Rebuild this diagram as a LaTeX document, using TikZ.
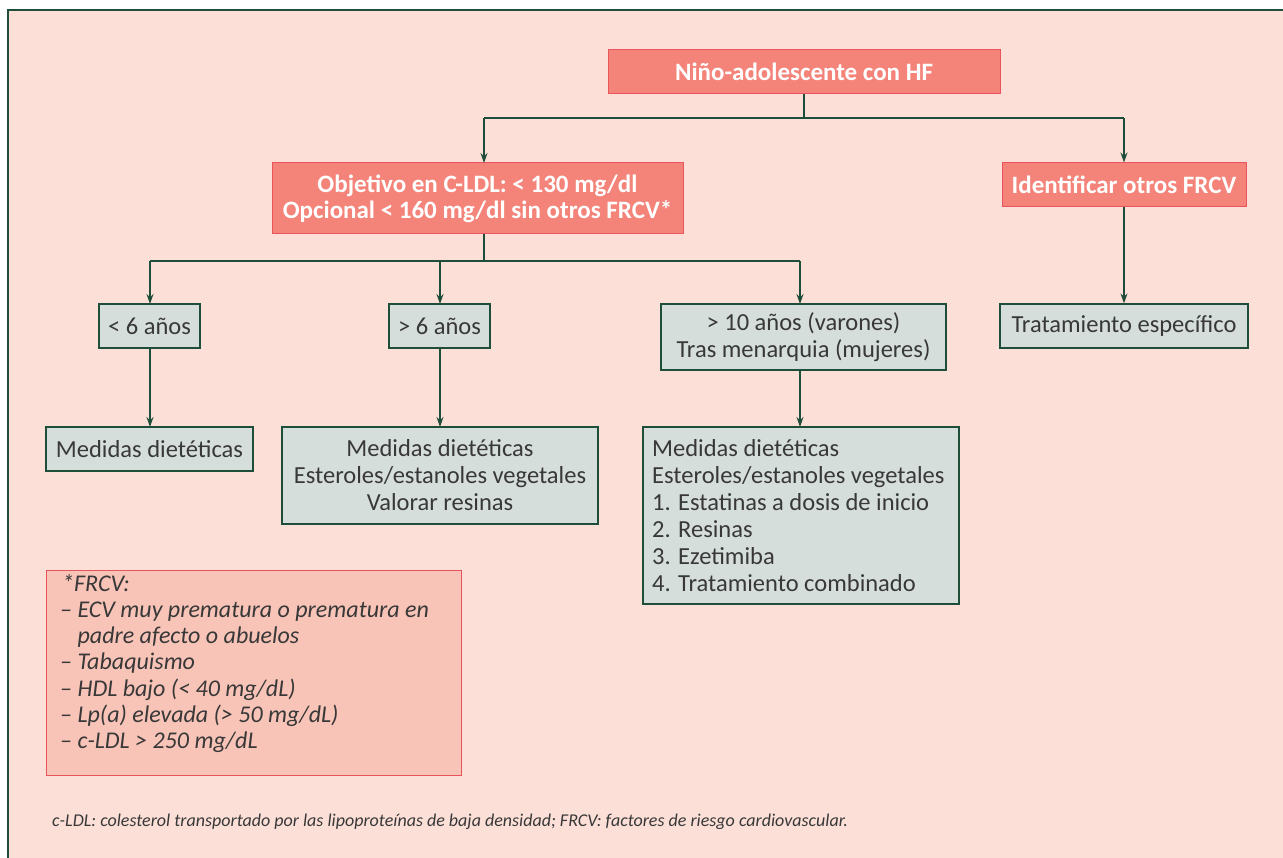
\documentclass[tikz,border=0pt]{standalone}
\usepackage{fontspec}
\setmainfont{Carlito}
\usetikzlibrary{arrows.meta}
\definecolor{bgpink}{HTML}{FCE0D8}
\definecolor{salmonfill}{HTML}{F4847A}
\definecolor{redline}{HTML}{E9545C}
\definecolor{grayfill}{HTML}{D6DEDB}
\definecolor{darkgreen}{HTML}{1E4D3A}
\definecolor{notefill}{HTML}{F9C4B8}
\definecolor{txt}{HTML}{383838}
\tikzset{
  redbox/.style={draw=redline, line width=1pt, fill=salmonfill, text=white, inner sep=0pt,
    font=\fontsize{25}{26}\selectfont\bfseries, align=center},
  graybox/.style={draw=darkgreen, line width=1.2pt, fill=grayfill, text=txt, inner sep=0pt,
    font=\fontsize{24.5}{27}\selectfont, align=center},
  conn/.style={draw=darkgreen, line width=1.4pt},
  arr/.style={conn, -{Stealth[length=10pt,width=7pt]}},
}
\begin{document}
\begin{tikzpicture}[x=1pt,y=-1pt]
\useasboundingbox (0,0) rectangle (1283,858);
\fill[bgpink] (8,10) rectangle (1283,858);
\draw[darkgreen, line width=1.5pt] (8,858) -- (8,10) -- (1283,10);

% red boxes
\node[redbox, minimum width=392pt, minimum height=44pt] (top) at (804,72) {Niño-adolescente con HF};
\node[redbox, minimum width=411pt, minimum height=71pt] (obj) at (477.5,198.5) {Objetivo en C-LDL: < 130 mg/dl\\Opcional < 160 mg/dl sin otros FRCV*};
\node[redbox, minimum width=244pt, minimum height=44pt] (ident) at (1124,185) {Identificar otros FRCV};

% gray boxes level 2
\node[graybox, minimum width=101pt, minimum height=44pt] (lt6) at (149.5,326) {< 6 años};
\node[graybox, minimum width=101pt, minimum height=44pt] (gt6) at (439.5,326) {> 6 años};
\node[graybox, minimum width=285pt, minimum height=66pt] (gt10) at (803.5,337) {> 10 años (varones)\\Tras menarquia (mujeres)};
\node[graybox, minimum width=248pt, minimum height=44pt] (trat) at (1124,326) {Tratamiento específico};

% gray boxes level 3
\node[graybox, minimum width=207pt, minimum height=44pt] (med1) at (149.5,449) {Medidas dietéticas};
\node[graybox, minimum width=316pt, minimum height=97pt] (med2) at (440,475.5) {Medidas dietéticas\\Esteroles/estanoles vegetales\\Valorar resinas};
\node[graybox, minimum width=316pt, minimum height=177pt] (med3) at (801,515.5) {};
\node[anchor=north west, inner sep=0pt, align=left, text=txt, font=\fontsize{24.5}{27}\selectfont] (med3txt) at (652,439) {Medidas dietéticas\\Esteroles/estanoles vegetales\\1. Estatinas a dosis de inicio\\2. Resinas\\3. Ezetimiba\\4. Tratamiento combinado};

% connectors
\coordinate (j1) at (804,118);
\coordinate (j1l) at (484,118);
\coordinate (j1r) at (1124,118);
\draw[conn] (top.south) -- (j1);
\draw[conn] (j1l) -- (j1r);
\draw[arr] (j1l) -- (484,163);
\draw[arr] (j1r) -- (ident.north);

\coordinate (j2) at (484,261);
\coordinate (j2l) at (150,261);
\coordinate (j2m) at (440,261);
\coordinate (j2r) at (800,261);
\draw[conn] (484,234) -- (j2);
\draw[conn] (j2l) -- (j2r);
\draw[arr] (j2l) -- (150,304);
\draw[arr] (j2m) -- (440,304);
\draw[arr] (j2r) -- (800,304);

\draw[arr] (ident.south) -- (trat.north);
\draw[arr] (150,348) -- (150,427);
\draw[arr] (440,348) -- (440,427);
\draw[arr] (800,370) -- (800,427);

% note box
\node[draw=redline, line width=1pt, fill=notefill, minimum width=415pt, minimum height=205pt, inner sep=0pt] (note) at (253.5,672.5) {};
\node[anchor=north west, inner sep=0pt, align=left, text=txt, font=\fontsize{24}{26.2}\selectfont\itshape] (notetxt) at (60,574) {\hspace*{2pt}*FRCV:\\– ECV muy prematura o prematura en\\\phantom{– }padre afecto o abuelos\\– Tabaquismo\\– HDL bajo (< 40 mg/dL)\\– Lp(a) elevada (> 50 mg/dL)\\– c-LDL > 250 mg/dL};

% footnote
\node[anchor=west, inner sep=0pt, text=txt, font=\fontsize{18}{22}\selectfont\itshape] (foot) at (52,822) {c-LDL: colesterol transportado por las lipoproteínas de baja densidad; FRCV: factores de riesgo cardiovascular.};
\end{tikzpicture}
\end{document}
